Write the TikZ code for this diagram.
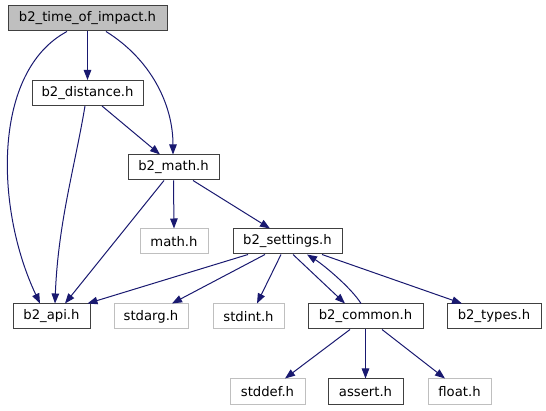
\documentclass[tikz,border=0pt]{standalone}
\usepackage{fontspec}
\setmainfont{DejaVu Sans}
\usetikzlibrary{arrows.meta}
\definecolor{edgec}{HTML}{191970}
\definecolor{grayb}{HTML}{BFBFBF}
\definecolor{darkb}{HTML}{404040}
\tikzset{
  box/.style={draw=darkb, line width=1pt, fill=white, inner sep=0pt, minimum height=25pt, font=\fontsize{13.2}{14}\selectfont, text=black},
  sysbox/.style={box, draw=grayb},
  rootbox/.style={box, fill=grayb},
  edge/.style={draw=edgec, line width=1pt, -{Triangle[length=10pt,width=7.5pt]}},
}
\begin{document}
\begin{tikzpicture}[x=1pt,y=-1pt]
\useasboundingbox (0,0) rectangle (546,411);
\node[rootbox, minimum width=159pt] (tof) at (87.5,18.5) {b2\_time\_of\_impact.h};
\node[box, minimum width=111pt] (dist) at (87.5,93) {b2\_distance.h};
\node[box, minimum width=91pt] (math) at (173.5,167.5) {b2\_math.h};
\node[sysbox, minimum width=68pt] (mathh) at (174,241.5) {math.h};
\node[box, minimum width=109pt] (set) at (287.5,241.5) {b2\_settings.h};
\node[box, minimum width=77pt] (api) at (51.5,316.5) {b2\_api.h};
\node[sysbox, minimum width=74pt] (stdarg) at (151,316.5) {stdarg.h};
\node[sysbox, minimum width=71pt] (stdint) at (248.5,316.5) {stdint.h};
\node[box, minimum width=115pt] (common) at (365.5,316.5) {b2\_common.h};
\node[box, minimum width=94pt] (types) at (494,316.5) {b2\_types.h};
\node[sysbox, minimum width=75pt] (stddef) at (267.5,391.5) {stddef.h};
\node[box, minimum width=75pt] (assert) at (365.5,391.5) {assert.h};
\node[sysbox, minimum width=63pt] (float) at (459.5,391.5) {float.h};

\draw[edge] ([xshift=-20.5pt]tof.south) .. controls +(-75,40) and +(-45,-95) .. ([xshift=-11.5pt]api.north);
\draw[edge] (tof.south) -- (dist.north);
\draw[edge] ([xshift=18.5pt]tof.south) .. controls +(45,28) and +(0,-50) .. ([xshift=-0.5pt]math.north);
\draw[edge] ([xshift=-2.5pt]dist.south) .. controls +(-10,60) and +(3,-80) .. ([xshift=3.5pt]api.north);
\draw[edge] ([xshift=14.5pt]dist.south) -- ([xshift=-13.5pt]math.north);
\draw[edge] ([xshift=-9.5pt]math.south) -- ([xshift=13.5pt]api.north);
\draw[edge] (math.south) -- (mathh.north);
\draw[edge] ([xshift=19.5pt]math.south) -- ([xshift=-17.5pt]set.north);
\draw[edge] ([xshift=-39.5pt]set.south) -- ([xshift=36pt]api.north);
\draw[edge] ([xshift=-22.5pt]set.south) -- ([xshift=21pt]stdarg.north);
\draw[edge] ([xshift=-6.5pt]set.south) -- ([xshift=8.5pt]stdint.north);
\draw[edge] ([xshift=5.5pt]set.south) -- ([xshift=-20.5pt]common.north);
\draw[edge] ([xshift=-4.5pt]common.north) .. controls +(-10,-16) and +(16,10) .. ([xshift=19.5pt]set.south);
\draw[edge] ([xshift=34.5pt]set.south) -- ([xshift=-32pt]types.north);
\draw[edge] ([xshift=-15.5pt]common.south) -- ([xshift=17.5pt]stddef.north);
\draw[edge] (common.south) -- (assert.north);
\draw[edge] ([xshift=16.5pt]common.south) -- ([xshift=-14.5pt]float.north);
\end{tikzpicture}
\end{document}
